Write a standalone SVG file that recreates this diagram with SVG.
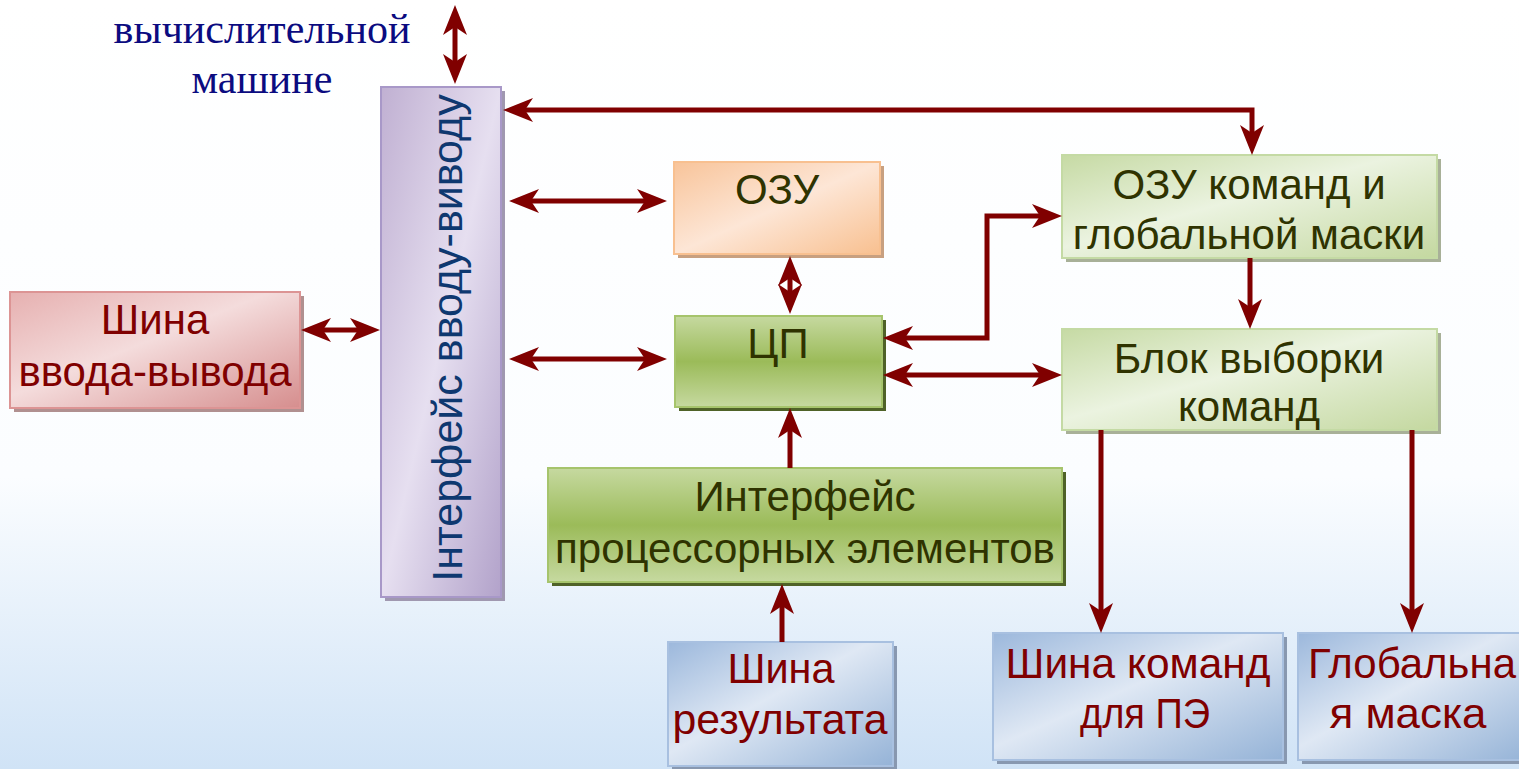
<svg xmlns="http://www.w3.org/2000/svg" width="1519" height="769" viewBox="0 0 1519 769">
<defs>
<linearGradient id="bg" x1="0" y1="0" x2="0" y2="1">
<stop offset="0" stop-color="#ffffff"/><stop offset="0.62" stop-color="#fbfdff"/><stop offset="1" stop-color="#d0e3f6"/>
</linearGradient>
<linearGradient id="gPink" x1="0" y1="0" x2="1" y2="1">
<stop offset="0" stop-color="#e6b0b0"/><stop offset="0.45" stop-color="#f4dcdc"/><stop offset="1" stop-color="#d68e8e"/>
</linearGradient>
<linearGradient id="gLav" x1="0" y1="0" x2="1" y2="1">
<stop offset="0" stop-color="#c0b0d2"/><stop offset="0.5" stop-color="#e6dff0"/><stop offset="1" stop-color="#b2a2ca"/>
</linearGradient>
<linearGradient id="gPeach" x1="0" y1="0" x2="1" y2="1">
<stop offset="0" stop-color="#f8c49a"/><stop offset="0.5" stop-color="#fde6d6"/><stop offset="1" stop-color="#f8c090"/>
</linearGradient>
<linearGradient id="gGreen" x1="0" y1="0" x2="0" y2="1">
<stop offset="0" stop-color="#c6d9a0"/><stop offset="0.5" stop-color="#9bbb59"/><stop offset="1" stop-color="#c6d9a0"/>
</linearGradient>
<linearGradient id="gLGreen" x1="0" y1="0" x2="1" y2="1">
<stop offset="0" stop-color="#c6daa4"/><stop offset="0.45" stop-color="#ebf3e0"/><stop offset="1" stop-color="#c4d8a0"/>
</linearGradient>
<linearGradient id="gBlue" x1="0" y1="0" x2="1" y2="1">
<stop offset="0" stop-color="#9cb8dc"/><stop offset="0.45" stop-color="#dfe8f4"/><stop offset="1" stop-color="#95b3d7"/>
</linearGradient>
<marker id="ah" viewBox="0 0 30 24" refX="20" refY="12" markerWidth="30" markerHeight="24" markerUnits="userSpaceOnUse" orient="auto-start-reverse">
<path d="M0,0 L30,12 L0,24 L8,12 Z" fill="#800000"/>
</marker>
</defs>
<style>
.t{font-family:"Liberation Sans",Arial,sans-serif;font-size:42px;text-anchor:middle}
.tg{fill:#2f3300}
.tr{fill:#800000}
.tb{fill:#0e3870}
.ts{font-family:"Liberation Serif","Times New Roman",serif;font-size:42px;fill:#0b0b80;text-anchor:middle}
.c{fill:none;stroke:#800000;stroke-width:5}
.c1{marker-end:url(#ah)}
.c2{marker-start:url(#ah);marker-end:url(#ah)}
</style>
<rect x="0" y="0" width="1519" height="769" fill="url(#bg)"/>

<g id="label-top">
<text class="ts" x="262" y="43">вычислительной</text>
<text class="ts" x="262" y="93">машине</text>
</g>

<g id="node-io-interface">
<rect x="385" y="91" width="120" height="510" fill="#a098b0"/>
<rect x="381" y="87" width="120" height="510" fill="url(#gLav)" stroke="#a898c8" stroke-width="2"/>
<text class="t tb" style="font-size:43px" transform="translate(462,338) rotate(-90)" x="0" y="0">Інтерфейс вводу-виводу</text>
</g>

<g id="node-io-bus">
<rect x="14" y="296" width="290" height="116" fill="#b09090"/>
<rect x="10" y="292" width="290" height="116" fill="url(#gPink)" stroke="#dc9494" stroke-width="2"/>
<text class="t tr" x="155" y="334">Шина</text>
<text class="t tr" x="155" y="386">ввода-вывода</text>
</g>

<g id="node-ram">
<rect x="678" y="166" width="206" height="92" fill="#c8a080"/>
<rect x="674" y="162" width="206" height="92" fill="url(#gPeach)" stroke="#f8c090" stroke-width="2"/>
<text class="t tg" x="777" y="204">ОЗУ</text>
</g>

<g id="node-cpu">
<rect x="679" y="320" width="207" height="91" fill="#4f6228"/>
<rect x="675" y="316" width="207" height="91" fill="url(#gGreen)" stroke="#a6c46c" stroke-width="2"/>
<text class="t tg" x="778" y="358">ЦП</text>
</g>

<g id="node-pe-interface">
<rect x="552" y="472" width="514" height="114" fill="#4f6228"/>
<rect x="548" y="468" width="514" height="114" fill="url(#gGreen)" stroke="#a6c46c" stroke-width="2"/>
<text class="t tg" x="805" y="511">Интерфейс</text>
<text class="t tg" x="805" y="563">процессорных элементов</text>
</g>

<g id="node-cmd-ram">
<rect x="1066" y="159" width="375" height="103" fill="#a8b098"/>
<rect x="1062" y="155" width="375" height="103" fill="url(#gLGreen)" stroke="#c4daa4" stroke-width="2"/>
<text class="t tg" x="1249" y="199">ОЗУ команд и</text>
<text class="t tg" x="1249" y="249">глобальной маски</text>
</g>

<g id="node-fetch">
<rect x="1066" y="333" width="375" height="101" fill="#a8b098"/>
<rect x="1062" y="329" width="375" height="101" fill="url(#gLGreen)" stroke="#c4daa4" stroke-width="2"/>
<text class="t tg" x="1249" y="373">Блок выборки</text>
<text class="t tg" x="1249" y="421">команд</text>
</g>

<g id="node-result-bus">
<rect x="672" y="646" width="225" height="124" fill="#8898b0"/>
<rect x="668" y="642" width="225" height="124" fill="url(#gBlue)" stroke="#a8c0e0" stroke-width="2"/>
<text class="t tr" x="781" y="683" textLength="107" lengthAdjust="spacingAndGlyphs">Шина</text>
<text class="t tr" x="780" y="734" textLength="215" lengthAdjust="spacingAndGlyphs">результата</text>
</g>

<g id="node-cmd-bus">
<rect x="997" y="637" width="290" height="127" fill="#8898b0"/>
<rect x="993" y="633" width="290" height="127" fill="url(#gBlue)" stroke="#a8c0e0" stroke-width="2"/>
<text class="t tr" x="1138" y="678" textLength="265" lengthAdjust="spacingAndGlyphs">Шина команд</text>
<text class="t tr" x="1145" y="728" textLength="130" lengthAdjust="spacingAndGlyphs">для ПЭ</text>
</g>

<g id="node-global-mask">
<rect x="1302" y="637" width="230" height="127" fill="#8898b0"/>
<rect x="1298" y="633" width="230" height="127" fill="url(#gBlue)" stroke="#a8c0e0" stroke-width="2"/>
<text class="t tr" x="1412" y="678" textLength="208" lengthAdjust="spacingAndGlyphs">Глобальна</text>
<text class="t tr" x="1408" y="728" textLength="157" lengthAdjust="spacingAndGlyphs">я маска</text>
</g>

<g id="connectors">
<path class="c c2" d="M455,15 V74"/>
<path class="c c2" d="M513,110 H1252 V145"/>
<path class="c c2" d="M311,330 H370"/>
<path class="c c2" d="M519,201 H657"/>
<path class="c c2" d="M519,359 H657"/>
<path class="c c2" d="M790,266 V304"/>
<path class="c c2" d="M893,338 H987 V216 H1052"/>
<path class="c c2" d="M893,375 H1052"/>
<path class="c c1" d="M1250,258 V319"/>
<path class="c c1" d="M1101,430 V623"/>
<path class="c c1" d="M1412,430 V623"/>
<path class="c c1" d="M790,468 V418"/>
<path class="c c1" d="M782,642 V594"/>
</g>
</svg>
